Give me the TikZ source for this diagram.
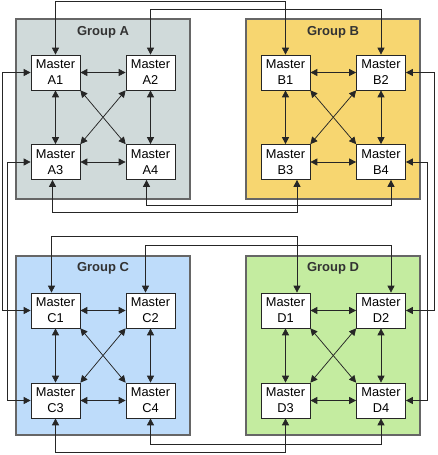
\documentclass[tikz,border=0pt]{standalone}
\usepackage{fontspec}
\setmainfont{Liberation Sans}
\usetikzlibrary{arrows.meta}

\definecolor{fillA}{RGB}{208,218,218}
\definecolor{fillB}{RGB}{247,214,112}
\definecolor{fillC}{RGB}{190,220,250}
\definecolor{fillD}{RGB}{196,236,160}

\tikzset{
  master/.style={draw=black!85, fill=white, line width=0.7pt, minimum width=49pt, minimum height=35pt,
    inner sep=0pt, align=center, font=\fontsize{12.8}{16}\selectfont},
  groupbox/.style={draw=black!60, line width=1.1pt},
  grouptitle/.style={font=\bfseries\fontsize{13}{15}\selectfont, text=black!80},
  link/.style={<->, line width=0.75pt, black!85},
}

\begin{document}
\begin{tikzpicture}[x=1pt, y=-1pt, >={Triangle[length=7pt, width=7pt]}, line join=miter]
  \useasboundingbox (0,0) rectangle (437,455);

  % Group frames
  \draw[groupbox, fill=fillA] (16,19) rectangle (190,199);
  \draw[groupbox, fill=fillB] (246,19) rectangle (420,199);
  \draw[groupbox, fill=fillC] (16,256) rectangle (190,435);
  \draw[groupbox, fill=fillD] (246,256) rectangle (420,435);

  \node[grouptitle] (tA) at (103,32) {Group A};
  \node[grouptitle] (tB) at (333,32) {Group B};
  \node[grouptitle] (tC) at (103,268) {Group C};
  \node[grouptitle] (tD) at (333,268) {Group D};

  % Masters
  \node[master] (A1) at (55.5,72.5) {Master\\A1};
  \node[master] (A2) at (150.5,72.5) {Master\\A2};
  \node[master] (A3) at (55.5,162) {Master\\A3};
  \node[master] (A4) at (150.5,162) {Master\\A4};

  \node[master] (B1) at (285.5,72.5) {Master\\B1};
  \node[master] (B2) at (381,72.5) {Master\\B2};
  \node[master] (B3) at (285.5,162) {Master\\B3};
  \node[master] (B4) at (381,162) {Master\\B4};

  \node[master] (C1) at (55.5,310.5) {Master\\C1};
  \node[master] (C2) at (150.5,310.5) {Master\\C2};
  \node[master] (C3) at (55.5,400.5) {Master\\C3};
  \node[master] (C4) at (150.5,400.5) {Master\\C4};

  \node[master] (D1) at (285.5,310.5) {Master\\D1};
  \node[master] (D2) at (381,310.5) {Master\\D2};
  \node[master] (D3) at (285.5,400.5) {Master\\D3};
  \node[master] (D4) at (381,400.5) {Master\\D4};

  % Links inside group A
  \draw[link] (A1) -- (A2);
  \draw[link] (A3) -- (A4);
  \draw[link] (A1) -- (A3);
  \draw[link] (A2) -- (A4);
  \draw[link] (A1.south east) -- (A4.north west);
  \draw[link] (A2.south west) -- (A3.north east);

  % Links inside group B
  \draw[link] (B1) -- (B2);
  \draw[link] (B3) -- (B4);
  \draw[link] (B1) -- (B3);
  \draw[link] (B2) -- (B4);
  \draw[link] (B1.south east) -- (B4.north west);
  \draw[link] (B2.south west) -- (B3.north east);

  % Links inside group C
  \draw[link] (C1) -- (C2);
  \draw[link] (C3) -- (C4);
  \draw[link] (C1) -- (C3);
  \draw[link] (C2) -- (C4);
  \draw[link] (C1.south east) -- (C4.north west);
  \draw[link] (C2.south west) -- (C3.north east);

  % Links inside group D
  \draw[link] (D1) -- (D2);
  \draw[link] (D3) -- (D4);
  \draw[link] (D1) -- (D3);
  \draw[link] (D2) -- (D4);
  \draw[link] (D1.south east) -- (D4.north west);
  \draw[link] (D2.south west) -- (D3.north east);

  % A to B, over the top and under the bottom
  \draw[link] (A1.north) -- ++(0,-53) -| (B1.north);
  \draw[link] (A2.north) -- ++(0,-45) -| (B2.north);
  \draw[link] ([xshift=-4pt]A4.south) -- ++(0,26) -| ([xshift=10pt]B4.south);
  \draw[link] ([xshift=-3pt]A3.south) -- ++(0,33) -| ([xshift=11.5pt]B3.south);

  % C to D
  \draw[link] ([xshift=-4pt]C1.north) -- ++(0,-56) -| ([xshift=11.5pt]D1.north);
  \draw[link] ([xshift=-5pt]C2.north) -- ++(0,-47) -| ([xshift=10pt]D2.north);
  \draw[link] (C4.south) -- ++(0,26) -| (D4.south);
  \draw[link] (C3.south) -- ++(0,34) -| (D3.south);

  % A to C on the left, B to D on the right
  \draw[link] (A1.west) -- ++(-28,0) |- (C1.west);
  \draw[link] (A3.west) -- ++(-23,0) |- (C3.west);
  \draw[link] (B2.east) -- ++(29,0) |- (D2.east);
  \draw[link] (B4.east) -- ++(22,0) |- (D4.east);
\end{tikzpicture}
\end{document}
